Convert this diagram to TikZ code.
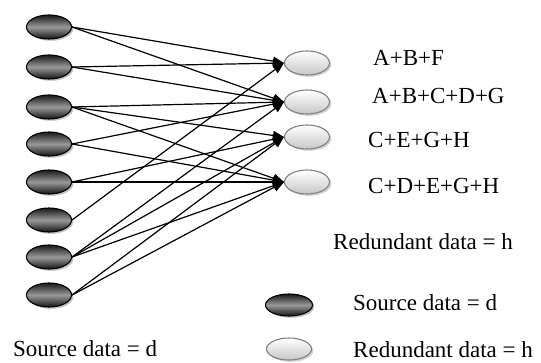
\documentclass[tikz,border=0pt]{standalone}
\usepackage{fontspec}
\setmainfont{Liberation Serif}
\usetikzlibrary{shapes.geometric,shadows,arrows.meta}

\begin{document}
\begin{tikzpicture}[x=1pt,y=-1pt,
  srcnode/.style={ellipse, minimum width=45pt, minimum height=24pt, inner sep=0pt,
    draw=black, line width=1.1pt,
    top color=black!90, bottom color=black!92, middle color=black!40,
    drop shadow={shadow xshift=1.8pt, shadow yshift=-1.8pt, fill=black!35, opacity=0.7}},
  rednode/.style={ellipse, minimum width=45pt, minimum height=24pt, inner sep=0pt,
    draw=black!50, line width=1.1pt,
    top color=white, bottom color=black!22,
    drop shadow={shadow xshift=1.8pt, shadow yshift=-1.8pt, fill=black!25, opacity=0.7}},
  link/.style={line width=1.2pt, -{Triangle[length=11pt,width=9pt]}},
  lbl/.style={anchor=west, inner sep=0pt, font=\fontsize{23}{26}\selectfont}
]
\useasboundingbox (0,0) rectangle (541,363);

% source nodes
\node[srcnode] (s1) at (49,27) {};
\node[srcnode] (s2) at (49,67) {};
\node[srcnode] (s3) at (49,107) {};
\node[srcnode] (s4) at (49,144) {};
\node[srcnode] (s5) at (49,182) {};
\node[srcnode] (s6) at (49,220) {};
\node[srcnode] (s7) at (49,257) {};
\node[srcnode] (s8) at (49,295) {};

% redundant nodes
\node[rednode] (r1) at (307,63) {};
\node[rednode] (r2) at (307,102) {};
\node[rednode] (r3) at (307,137) {};
\node[rednode] (r4) at (307,182) {};

% links
\foreach \s/\r in {s1/r1, s2/r1, s6/r1,
                   s1/r2, s2/r2, s3/r2, s4/r2, s7/r2,
                   s3/r3, s5/r3, s7/r3, s8/r3,
                   s3/r4, s4/r4, s5/r4, s7/r4, s8/r4}
  \draw[link] (\s.east) -- (\r.west);

% combination labels
\node[lbl] (l1) at (373,58) {A+B+F};
\node[lbl] (l2) at (372,96) {A+B+C+D+G};
\node[lbl] (l3) at (368,140) {C+E+G+H};
\node[lbl] (l4) at (368,186) {C+D+E+G+H};
\node[lbl] (l5) at (333,242) {Redundant data = h};

% legend
\node[srcnode, minimum height=22pt, minimum width=47pt] (ks) at (289,305) {};
\node[lbl] (kst) at (353,303) {Source data = d};
\node[rednode, minimum height=22pt] (kr) at (289,349) {};
\node[lbl] (krt) at (353,350) {Redundant data = h};
\node[lbl] (bl) at (13,349) {Source data = d};
\end{tikzpicture}
\end{document}
